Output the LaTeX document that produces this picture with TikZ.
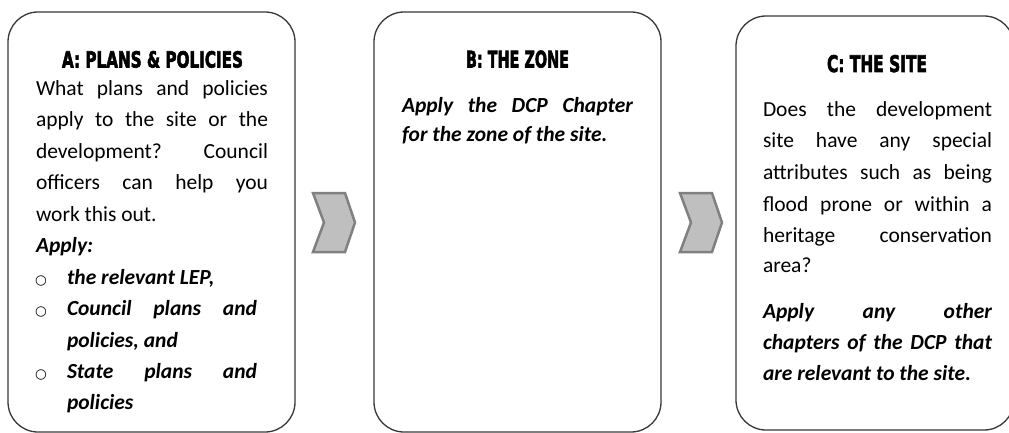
\documentclass[tikz,border=0pt]{standalone}
\usepackage{fontspec}
\usepackage{graphicx}
\newfontfamily\bodyfont{Carlito}
\newfontfamily\titlefont[BoldFeatures={FakeBold=3}]{DejaVu Sans}
\newfontfamily\bulletfont{DejaVu Sans}
\newcommand\JustLine[2]{\makebox[#1][s]{#2}}
\begin{document}
\begin{tikzpicture}[x=1pt,y=-1pt,
  panel/.style={draw=black!78,line width=1.3pt,rounded corners=30pt},
  chev/.style={fill=black!25,draw=black!50,line width=2.5pt,line join=miter},
  txt/.style={anchor=base west,inner sep=0pt,outer sep=0pt,font=\bodyfont\fontsize{21.5}{26}\selectfont},
  bi/.style={anchor=base west,inner sep=0pt,outer sep=0pt,font=\bodyfont\fontsize{21.5}{26}\selectfont\bfseries\itshape},
  ttl/.style={anchor=base west,inner sep=0pt,outer sep=0pt,font=\titlefont\bfseries},
  bul/.style={anchor=base west,inner sep=0pt,outer sep=0pt,font=\bulletfont\fontsize{13.5}{15}\selectfont}]
\useasboundingbox (0,0) rectangle (1009,433);
\fill[white] (0,0) rectangle (1009,433);

% panels
\draw[panel] (8,12) rectangle (295,432);
\draw[panel] (374,12) rectangle (661,432);
\draw[panel] (736,16) rectangle (1014,430);

% chevrons
\draw[chev] (313,193) -- (345,193) -- (355,222.5) -- (345,252) -- (313,252) -- (324,222.5) -- cycle;
\draw[chev] (680,193) -- (712,193) -- (722,222.5) -- (712,252) -- (680,252) -- (691,222.5) -- cycle;

% titles
\node[ttl] (tA) at (62,67.5) {\resizebox{181pt}{16.5pt}{A: PLANS \& POLICIES}};
\node[ttl] (tB) at (466,67.5) {\resizebox{103pt}{17pt}{B: THE ZONE}};
\node[ttl] (tC) at (827,72) {\resizebox{100pt}{17pt}{C: THE SITE}};

% panel A text
\node[txt] (a1) at (36,96) {\JustLine{232pt}{What plans and policies}};
\node[txt] (a2) at (36,127) {\JustLine{232pt}{apply to the site or the}};
\node[txt] (a3) at (36,158) {\JustLine{232pt}{development? Council}};
\node[txt] (a4) at (36,189.5) {\JustLine{232pt}{officers can help you}};
\node[txt] (a5) at (36,221) {work this out.};
\node[bi] (a6) at (36,252) {Apply:};
\node[bul] (b1) at (35,284) {○};
\node[bi] (a7) at (67,284) {the relevant LEP,};
\node[bul] (b2) at (35,315.5) {○};
\node[bi] (a8) at (67,315.5) {\JustLine{190pt}{Council plans and}};
\node[bi] (a9) at (67,347) {policies, and};
\node[bul] (b3) at (35,378) {○};
\node[bi] (a10) at (67,378) {\JustLine{190pt}{State plans and}};
\node[bi] (a11) at (67,409.5) {policies};

% panel B text
\node[bi] (bb1) at (402,113) {\JustLine{231pt}{Apply the DCP Chapter}};
\node[bi] (bb2) at (402,142) {for the zone of the site.};

% panel C text
\node[txt] (c1) at (763,117) {\JustLine{229pt}{Does the development}};
\node[txt] (c2) at (763,148) {\JustLine{229pt}{site have any special}};
\node[txt] (c3) at (763,179) {\JustLine{229pt}{attributes such as being}};
\node[txt] (c4) at (763,211) {\JustLine{229pt}{flood prone or within a}};
\node[txt] (c5) at (763,242) {\JustLine{229pt}{heritage conservation}};
\node[txt] (c6) at (763,272) {area?};
\node[bi] (c7) at (763,318) {\JustLine{229pt}{Apply any other}};
\node[bi] (c8) at (763,349) {\JustLine{229pt}{chapters of the DCP that}};
\node[bi] (c9) at (763,380) {are relevant to the site.};
\end{tikzpicture}
\end{document}
